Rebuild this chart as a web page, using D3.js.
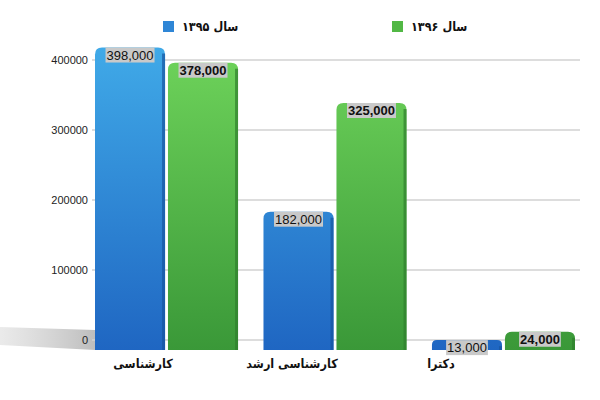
<!DOCTYPE html>
<html>
<head>
<meta charset="utf-8">
<script src="https://cdn.jsdelivr.net/npm/d3@7"></script>
<style>
  body { margin: 0; background: #fff; }
  svg { display: block; }
</style>
</head>
<body>
<div id="grafico"></div>
<script>
// Dados
const categorias = ["کارشناسی", "کارشناسی ارشد", "دکترا"];
const series = ["سال ۱۳۹۵", "سال ۱۳۹۶"];
const valores1395 = [398000, 182000, 13000];
const valores1396 = [378000, 325000, 24000];
const ticksY = [0, 100000, 200000, 300000, 400000];

const largura = 600, altura = 400;
const fontePersa = "'DejaVu Sans Condensed', 'DejaVu Sans', sans-serif";

const svg = d3.select("#grafico").append("svg")
    .attr("width", largura)
    .attr("height", altura);

const defs = svg.append("defs");

// Escalas
const x0 = d3.scaleBand().domain(categorias).range([95, 575]).paddingInner(0.151).paddingOuter(0);
const x1 = d3.scaleBand().domain(series).range([0, x0.bandwidth()]).paddingInner(0.04);
const xRotulo = d3.scalePoint().domain(categorias).range([143, 441]);
const yEixo = d3.scaleLinear().domain([0, 400000]).range([340, 60]);
const yBarra = d3.scaleLinear().domain([0, 400000]).range([350, 46]);

// Gradientes das barras (em coordenadas da tela, barras baixas ficam escuras)
function gradiente(id, topo, base) {
    const g = defs.append("linearGradient").attr("id", id)
        .attr("gradientUnits", "userSpaceOnUse")
        .attr("x1", 0).attr("y1", yBarra(400000)).attr("x2", 0).attr("y2", yBarra(0));
    g.append("stop").attr("offset", "0%").attr("stop-color", topo);
    g.append("stop").attr("offset", "100%").attr("stop-color", base);
}
gradiente("azul", "#40aae8", "#1f66c2");
gradiente("verde", "#6fd45b", "#3a9838");

const sombra = defs.append("linearGradient").attr("id", "chao")
    .attr("x1", 0).attr("y1", 0).attr("x2", 1).attr("y2", 0);
sombra.append("stop").attr("offset", "0%").attr("stop-color", "#d6d6d6").attr("stop-opacity", 0.5);
sombra.append("stop").attr("offset", "100%").attr("stop-color", "#bdbdbd").attr("stop-opacity", 1);

const cores = ["url(#azul)", "url(#verde)"];
const coresLado = ["#17549f", "#2f7f2c"];
const coresLegenda = ["#2f86d6", "#52b845"];

// Sombra do chão
svg.append("path")
    .attr("d", "M0,327 L95,330 L95,350 L0,345 Z")
    .attr("fill", "url(#chao)");

// Linhas de grade
svg.append("g").selectAll("line")
    .data(ticksY)
    .join("line")
    .attr("x1", 92).attr("x2", 580)
    .attr("y1", d => yEixo(d)).attr("y2", d => yEixo(d))
    .attr("stroke", "#d2d2d2")
    .attr("stroke-width", 1.5);

// Eixo y
const eixoY = svg.append("g")
    .attr("transform", "translate(88,0)")
    .call(d3.axisLeft(yEixo).tickValues(ticksY).tickFormat(d3.format("d")).tickSize(0).tickPadding(0));
eixoY.select(".domain").remove();
eixoY.selectAll("text")
    .attr("font-family", "'Liberation Sans', Arial, sans-serif")
    .attr("font-size", 11)
    .attr("fill", "#222");

// Barras
const dados = categorias.map((c, i) => ({
    categoria: c,
    itens: [
        { serie: series[0], valor: valores1395[i], s: 0 },
        { serie: series[1], valor: valores1396[i], s: 1 }
    ]
}));

function caminhoBarra(x, y, w, h, r) {
    r = Math.min(r, h / 2, w / 2);
    return `M${x},${y + h} L${x},${y + r} Q${x},${y} ${x + r},${y} L${x + w - r},${y} Q${x + w},${y} ${x + w},${y + r} L${x + w},${y + h} Z`;
}

const grupos = svg.append("g").selectAll("g")
    .data(dados)
    .join("g")
    .attr("transform", d => `translate(${x0(d.categoria)},0)`);

const barras = grupos.selectAll("g")
    .data(d => d.itens)
    .join("g");

barras.append("path")
    .attr("d", d => caminhoBarra(x1(d.serie), yBarra(d.valor), x1.bandwidth(), yBarra(0) - yBarra(d.valor), 7))
    .attr("fill", d => cores[d.s]);

// lado direito mais escuro (efeito 3D)
barras.append("rect")
    .attr("x", d => x1(d.serie) + x1.bandwidth() - 3)
    .attr("y", d => yBarra(d.valor) + 6)
    .attr("width", 3)
    .attr("height", d => Math.max(0, yBarra(0) - yBarra(d.valor) - 6))
    .attr("fill", d => coresLado[d.s])
    .attr("opacity", 0.7);

// Rótulos de valor
const fmt = d3.format(",");
const rotulos = barras.append("g")
    .attr("transform", d => `translate(${x1(d.serie) + x1.bandwidth() / 2},${yBarra(d.valor) + 1})`);

rotulos.append("text")
    .attr("y", 11)
    .attr("text-anchor", "middle")
    .attr("font-family", "'Liberation Sans', Arial, sans-serif")
    .attr("font-size", 13)
    .attr("font-weight", d => d.s === 1 ? "bold" : "normal")
    .attr("fill", "#111")
    .text(d => fmt(d.valor))
    .each(function () {
        const b = this.getBBox();
        d3.select(this.parentNode).insert("rect", "text")
            .attr("x", b.x - 1).attr("y", b.y)
            .attr("width", b.width + 2).attr("height", b.height)
            .attr("fill", "#c9c9c9");
    });

// Rótulos das categorias
svg.append("g").selectAll("text")
    .data(categorias)
    .join("text")
    .attr("x", d => xRotulo(d))
    .attr("y", 368)
    .attr("text-anchor", "middle")
    .attr("font-family", fontePersa)
    .attr("font-size", 12.5)
    .attr("font-weight", "bold")
    .attr("fill", "#111")
    .text(d => d);

// Legenda
const posLegenda = [163, 392];
const legenda = svg.append("g").selectAll("g")
    .data(series)
    .join("g")
    .attr("transform", (d, i) => `translate(${posLegenda[i]},21)`);

legenda.append("rect")
    .attr("width", 11).attr("height", 11)
    .attr("fill", (d, i) => coresLegenda[i]);

legenda.append("text")
    .attr("x", 19)
    .attr("y", 10)
    .attr("font-family", fontePersa)
    .attr("font-size", 12.5)
    .attr("font-weight", "bold")
    .attr("fill", "#111")
    .text(d => d);
</script>
</body>
</html>
